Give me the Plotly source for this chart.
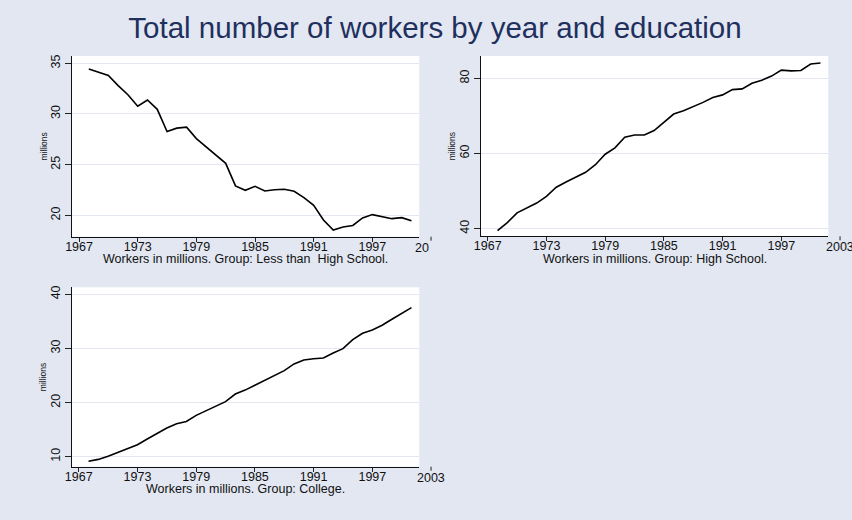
import plotly.graph_objects as go

# ---------------- data ----------------
years = [1968, 1969, 1970, 1971, 1972, 1973, 1974, 1975, 1976, 1977,
         1978, 1979, 1980, 1981, 1982, 1983, 1984, 1985, 1986, 1987,
         1988, 1989, 1990, 1991, 1992, 1993, 1994, 1995, 1996, 1997,
         1998, 1999, 2000, 2001]

less_than_hs = [34.44, 34.1, 33.8, 32.8, 31.9, 30.76, 31.38, 30.46, 28.26, 28.6,
                28.7, 27.57, 26.74, 26.0, 25.13, 22.9, 22.47, 22.86, 22.4, 22.53,
                22.57, 22.37, 21.74, 20.99, 19.54, 18.55, 18.85, 19.0, 19.74, 20.07,
                19.87, 19.67, 19.77, 19.47]

high_school = [39.47, 41.6, 44.2, 45.5, 46.8, 48.6, 51.0, 52.4, 53.6, 55.0,
               57.0, 59.8, 61.5, 64.3, 64.9, 64.9, 66.1, 68.4, 70.5, 71.4,
               72.4, 73.6, 74.9, 75.6, 77.0, 77.2, 78.7, 79.5, 80.6, 82.2,
               82.0, 82.1, 83.8, 84.1]

college = [9.14, 9.5, 10.06, 10.8, 11.54, 12.2, 13.27, 14.3, 15.3, 16.1,
           16.5, 17.64, 18.44, 19.24, 20.17, 21.58, 22.3, 23.19, 24.1, 25.0,
           25.9, 27.13, 27.87, 28.1, 28.24, 29.16, 29.96, 31.63, 32.8, 33.41,
           34.28, 35.39, 36.5, 37.54]

series = [less_than_hs, high_school, college]
panel_titles = ["Workers in millions. Group: Less than  High School.",
                "Workers in millions. Group: High School.",
                "Workers in millions. Group: College."]
x_tickvals = [1967, 1973, 1979, 1985, 1991, 1997]
x_last_tick = 2003
x_last_labels = ["20", "2003", "2003"]
y_tickvals = [[20, 25, 30, 35], [40, 60, 80], [10, 20, 30, 40]]
y_title = "millions"
main_title = "Total number of workers by year and education"

# ---------------- layout / style ----------------
W, H = 852, 520
x_range = [1966.28, 2001.8]
y_ranges = [[17.89, 35.72], [37.95, 85.95], [8.15, 41.29]]
# plot boxes in pixels: (left, right, top, bottom)
boxes = [(72, 419.3, 56, 236.7), (480.7, 828.3, 56, 236.3), (71.7, 419.3, 287.3, 466.7)]

BG = "#E2E7F1"
GRID = "#E3E8F0"
FONT = "Liberation Sans, Arial, sans-serif"
TICKC = "#222222"
TXT = "#111111"
TICKFS = 12.5

fig = go.Figure()
layout = dict(
    width=W, height=H,
    margin=dict(l=0, r=0, t=0, b=0),
    paper_bgcolor=BG, plot_bgcolor="white",
    showlegend=False,
    font=dict(family=FONT, color=TXT, size=12),
    title=dict(text=main_title, x=435 / W, xanchor="center", y=1 - 28 / H, yanchor="middle",
               font=dict(family=FONT, size=29.5, color="#1F2F5E")),
)
annotations = []
shapes = []

for i, (vals, box) in enumerate(zip(series, boxes)):
    sfx = "" if i == 0 else str(i + 1)
    l, r, t, b = box
    xd = [l / W, r / W]
    yd = [1 - b / H, 1 - t / H]
    fig.add_trace(go.Scatter(x=years, y=vals, mode="lines",
                             line=dict(color="black", width=1.6),
                             xaxis="x" + sfx, yaxis="y" + sfx, hoverinfo="skip"))
    layout["xaxis" + sfx] = dict(
        domain=xd, range=x_range, anchor="y" + sfx,
        tickmode="array", tickvals=x_tickvals, ticktext=[str(v) for v in x_tickvals],
        ticks="outside", ticklen=4, tickcolor=TICKC, tickwidth=1,
        ticklabelstandoff=-6,
        showline=True, linecolor=TXT, linewidth=1,
        showgrid=False, zeroline=False,
        tickfont=dict(size=TICKFS, family=FONT, color=TXT),
        automargin=False,
    )
    layout["yaxis" + sfx] = dict(
        domain=yd, range=y_ranges[i], anchor="x" + sfx,
        tickmode="array", tickvals=y_tickvals[i], ticktext=[str(v) for v in y_tickvals[i]],
        ticks="outside", ticklen=6, tickcolor=TICKC, tickwidth=1, tickangle=-90,
        showline=True, linecolor=TXT, linewidth=1,
        showgrid=True, gridcolor=GRID, gridwidth=1, zeroline=False,
        tickfont=dict(size=TICKFS, family=FONT, color=TXT),
        title=dict(text=y_title, standoff=0, font=dict(size=8.5, family=FONT, color=TXT)),
        automargin=False,
    )
    # x-axis caption under each panel
    annotations.append(dict(text=panel_titles[i], xref="x%s domain" % sfx, yref="y%s domain" % sfx,
                            x=0.5, y=0, xanchor="center", yanchor="middle", yshift=-22.5,
                            showarrow=False, font=dict(size=12.5, family=FONT, color=TXT)))
    # extra 2003 tick that sits beyond the end of the axis line
    frac = (x_last_tick - x_range[0]) / (x_range[1] - x_range[0])
    xp = xd[0] + (xd[1] - xd[0]) * frac
    shapes.append(dict(type="line", xref="paper", yref="paper", ysizemode="pixel",
                       x0=xp, x1=xp, yanchor=yd[0], y0=0, y1=-4,
                       line=dict(color=TICKC, width=1)))
    annotations.append(dict(text=x_last_labels[i], xref="paper", yref="paper",
                            x=xp, y=yd[0], xanchor="right" if i == 0 else "center",
                            yanchor="top", yshift=-2, showarrow=False,
                            font=dict(size=TICKFS, family=FONT, color=TXT)))

layout["annotations"] = annotations
layout["shapes"] = shapes
fig.update_layout(**layout)
fig.write_html("out.html",
               config={"displayModeBar": False},
               post_script="document.body.style.margin='0';"
                           "document.documentElement.style.overflow='hidden';")
